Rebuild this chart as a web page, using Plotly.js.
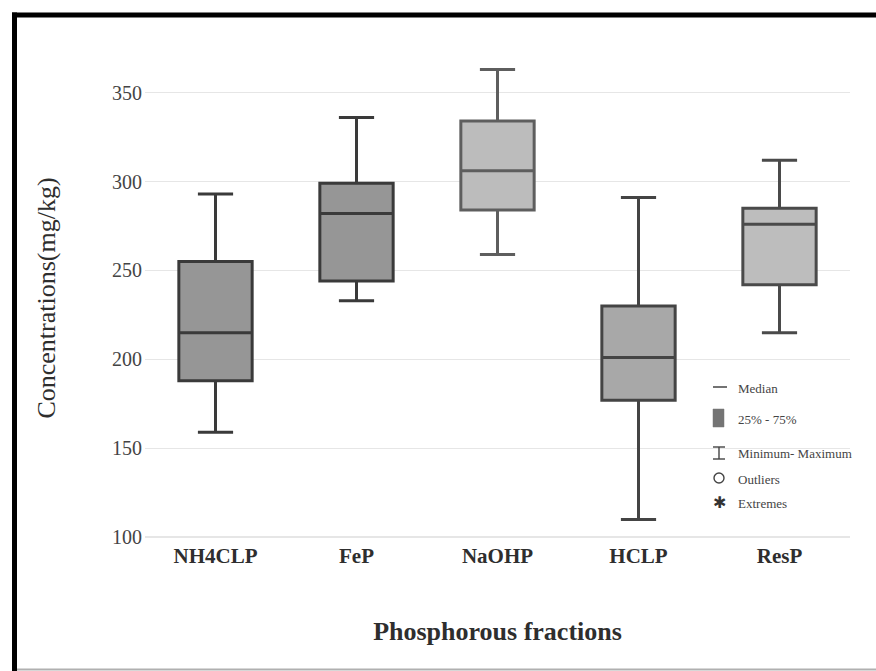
<!DOCTYPE html>
<html>
<head>
<meta charset="utf-8">
<script src="https://cdn.plot.ly/plotly-3.0.1.min.js"></script>
<style>
  html, body { margin: 0; padding: 0; background: #fff; }
  #chart { width: 876px; height: 671px; }
</style>
</head>
<body>
<div id="chart"></div>
<script>
// ---- data (mg/kg) ----
const categories = ["NH4CLP", "FeP", "NaOHP", "HCLP", "ResP"];
const minimum = [159, 233, 259, 110, 215];
const q1      = [188, 244, 284, 177, 242];
const median  = [215, 282, 306, 201, 276];
const q3      = [255, 299, 334, 230, 285];
const maximum = [293, 336, 363, 291, 312];
const fillColors = ["#969696", "#969696", "#bcbcbc", "#a8a8a8", "#bdbdbd"];
const lineColors = ["#3a3a3a", "#3a3a3a", "#5e5e5e", "#444444", "#4a4a4a"];
const legendLabels = ["Median", "25% - 75%", "Minimum- Maximum", "Outliers", "Extremes"];

// ---- geometry helpers (plot area in pixels) ----
const W = 876, H = 671;
const M = {l: 145, r: 26, t: 57, b: 132};
const PW = W - M.l - M.r, PH = H - M.t - M.b;
const px = x => (x - M.l) / PW;
const py = y => (H - M.b - y) / PH;

const traces = categories.map((c, i) => ({
  type: "box",
  name: c,
  x: [c],
  q1: [q1[i]],
  median: [median[i]],
  q3: [q3[i]],
  lowerfence: [minimum[i]],
  upperfence: [maximum[i]],
  boxpoints: false,
  fillcolor: fillColors[i],
  line: {color: lineColors[i], width: 3},
  whiskerwidth: 0.48,
  width: 0.52,
  hoverinfo: "skip",
  showlegend: false
}));

const serif = "Liberation Serif, Times New Roman, serif";
const shapes = [
  // frame
  {type: "line", xref: "paper", yref: "paper", x0: px(12), x1: px(876), y0: py(15), y1: py(15), line: {color: "#000", width: 5}},
  {type: "line", xref: "paper", yref: "paper", x0: px(14.5), x1: px(14.5), y0: py(12.5), y1: py(671), line: {color: "#000", width: 5}},
  {type: "line", xref: "paper", yref: "paper", x0: px(17), x1: px(876), y0: py(669.5), y1: py(669.5), line: {color: "#b0b0b0", width: 2}},
  // legend symbols
  {type: "line", xref: "paper", yref: "paper", x0: px(713), x1: px(727), y0: py(387), y1: py(387), line: {color: "#444", width: 1.5}},
  {type: "rect", xref: "paper", yref: "paper", x0: px(713), x1: px(724), y0: py(409), y1: py(427), fillcolor: "#747474", line: {color: "#747474", width: 0.5}},
  {type: "line", xref: "paper", yref: "paper", x0: px(719), x1: px(719), y0: py(447), y1: py(459), line: {color: "#444", width: 1.4}},
  {type: "line", xref: "paper", yref: "paper", x0: px(713), x1: px(725), y0: py(447), y1: py(447), line: {color: "#444", width: 1.4}},
  {type: "line", xref: "paper", yref: "paper", x0: px(713), x1: px(725), y0: py(459), y1: py(459), line: {color: "#444", width: 1.4}},
  {type: "circle", xref: "paper", yref: "paper", x0: px(714), x1: px(724), y0: py(473), y1: py(483), line: {color: "#444", width: 1.4}}
];

const legendY = [388, 419, 453, 479, 503];
const annotations = legendLabels.map((t, i) => ({
  xref: "paper", yref: "paper", x: px(736), y: py(legendY[i]),
  xanchor: "left", yanchor: "middle", showarrow: false,
  text: t, font: {family: "Liberation Serif", size: 13, color: "#444"}
}));
annotations.push({
  xref: "paper", yref: "paper", x: px(719), y: py(502),
  xanchor: "center", yanchor: "middle", showarrow: false,
  text: "✱", font: {family: "DejaVu Sans", size: 16, color: "#333"}
});

const layout = {
  width: W, height: H,
  margin: M,
  paper_bgcolor: "#fff",
  plot_bgcolor: "#fff",
  showlegend: false,
  xaxis: {
    type: "category",
    range: [-0.5, 4.5],
    showgrid: false, zeroline: false, showline: false, ticks: "",
    ticklabelstandoff: 2,
    tickfont: {family: serif, size: 21, color: "#2e2e2e", weight: "bold"},
    title: {text: "<b>Phosphorous fractions</b>", font: {family: serif, size: 26, color: "#2e2e2e"}, standoff: 54}
  },
  yaxis: {
    range: [99, 370],
    tickvals: [100, 150, 200, 250, 300, 350],
    showgrid: true, gridcolor: "#e6e6e6", gridwidth: 1.5,
    zeroline: false, showline: false, ticks: "",
    ticklabelstandoff: 2,
    tickfont: {family: serif, size: 20, color: "#444"},
    title: {text: "Concentrations(mg/kg)", font: {family: serif, size: 26, color: "#2e2e2e"}, standoff: 48}
  },
  shapes: shapes,
  annotations: annotations
};

Plotly.newPlot("chart", traces, layout, {displayModeBar: false, staticPlot: true});
</script>
</body>
</html>
